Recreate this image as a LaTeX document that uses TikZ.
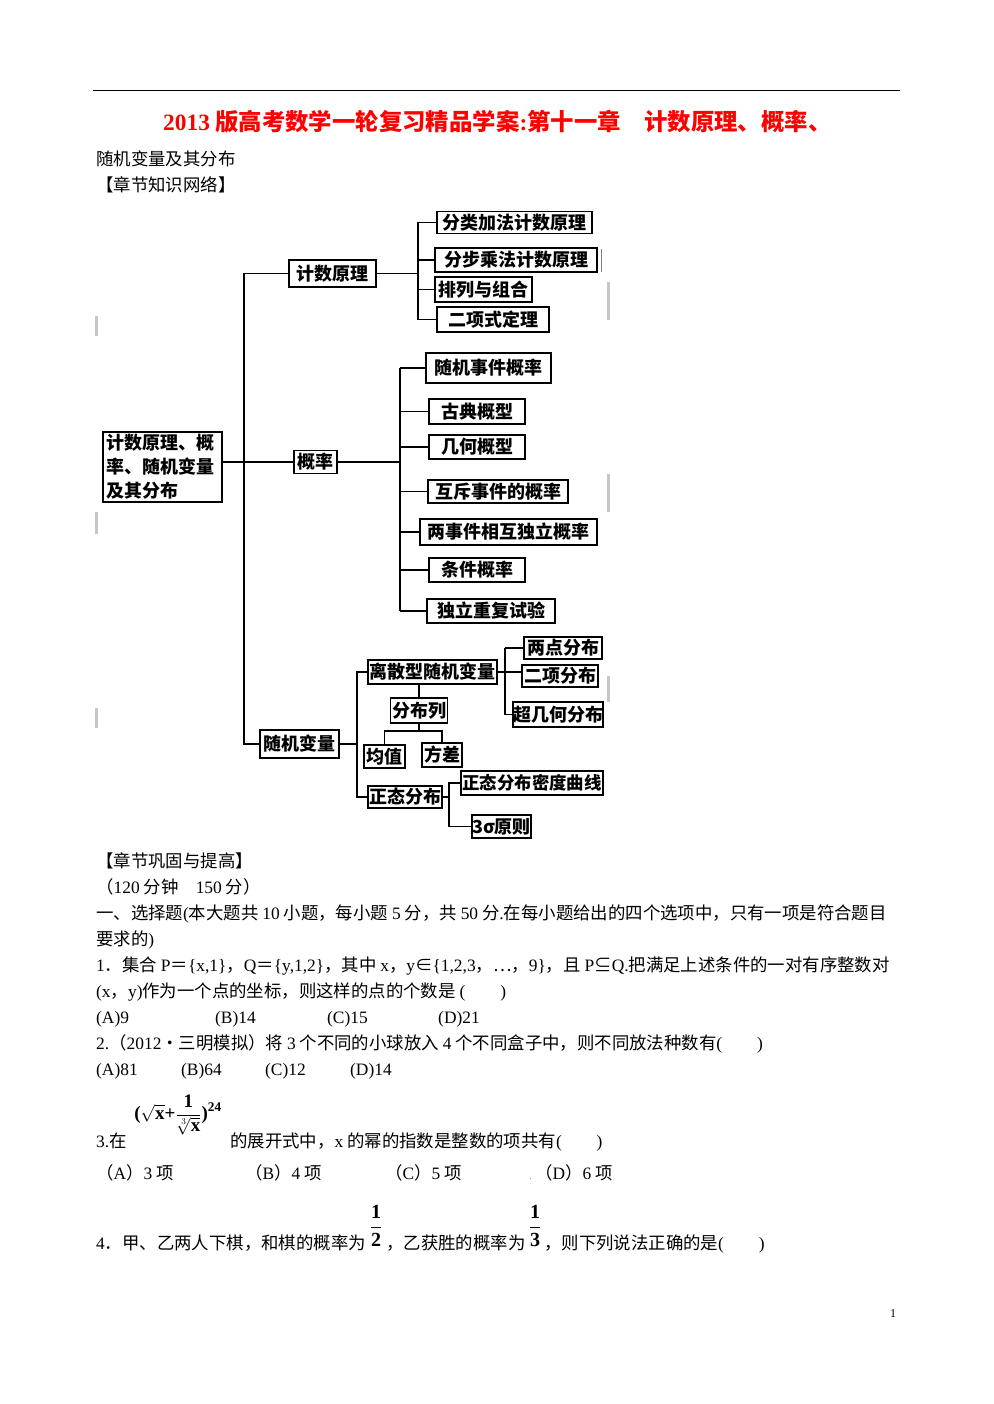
\documentclass[tikz,border=0pt]{standalone}
\usepackage{fontspec}
\setmainfont{Liberation Serif}
\newfontfamily\cjk{Noto Sans CJK SC}
\usetikzlibrary{positioning}
\newcommand\en[1]{{\rmfamily #1}}
\newcommand\bt[1]{\mbox{\rmfamily\bfseries #1}}
\newcommand\powx{\ensuremath{\displaystyle\bt{(}\sqrt{\mathbf{x}}\bt{+}\frac{\mathbf{1}}{\sqrt[3]{\mathbf{x}}}\bt{)}^{\mathbf{24}}}}
\newcommand\half[1]{\ensuremath{\displaystyle\frac{\mathbf{1}}{\mathbf{#1}}}}
\tikzset{
  kbox/.style={
    draw,
    line width=1.5pt,
    inner sep=0pt,
    minimum width=#1,
    minimum height=24,
    font=\cjk\bfseries\fontsize{18}{24}\selectfont
  },
  link/.style={
    line width=1.5pt
  },
  txt/.style={
    anchor=base west,
    inner sep=0pt,
    font=\cjk\fontsize{17.4}{20}\selectfont
  },
  latin/.style={
    txt,
    font=\rmfamily\fontsize{17.4}{20}\selectfont
  },
  mathbox/.style={
    inner sep=0pt,
    font=\rmfamily\bfseries\fontsize{17}{20}\selectfont
  },
  smudge/.style={
    fill=black!22,
    draw=none
  }
}

\begin{document}
\begin{tikzpicture}[x=1pt, y=-1pt]
    \fill[white] (0,0) rectangle (993,1404);
    \useasboundingbox (0,0) rectangle (993,1404);

    % 页眉线与标题
    \draw[line width=0.8pt] (93,90) -- (900,90);
    \node[txt, text=red, font=\cjk\bfseries\fontsize{23.4}{24}\selectfont] (title) at (163,130.5) {\en{2013} 版高考数学一轮复习精品学案\en{:}第十一章　计数原理、概率、};
    \node[txt] (sub) at (96,166) {随机变量及其分布};
    \node[txt] (wl) at (96,192) {【章节知识网络】};

    % 知识网络
    \node[kbox=119, minimum height=70, align=left, text width=113] (root) at (162.5,467) {计数原理、概\\率、随机变量\\及其分布};
    \node[kbox=87, minimum height=27] (jsyl) at (332.5,273.5) {计数原理};
    \node[kbox=43, minimum height=23] (gl) at (315.5,462) {概率};
    \node[kbox=79, minimum height=28] (sjbl) at (299.5,744) {随机变量};

    % 计数原理
    \node[kbox=155, minimum height=22] (fl) at (514.5,222.5) {分类加法计数原理};
    \node[kbox=162] (fb) at (516,260) {分步乘法计数原理};
    \node[kbox=97, minimum height=25] (pl) at (483.5,289.5) {排列与组合};
    \node[kbox=112, minimum height=25] (dx) at (493,319.5) {二项式定理};

    % 概率
    \node[kbox=125, minimum height=30] (sj) at (488.5,368) {随机事件概率};
    \node[kbox=96, minimum height=25] (gd) at (477,411.5) {古典概型};
    \node[kbox=96] (jh) at (477,447) {几何概型};
    \node[kbox=140, minimum height=23] (hc) at (498,491.5) {互斥事件的概率};
    \node[kbox=177, minimum height=26] (xh) at (508.5,532) {两事件相互独立概率};
    \node[kbox=96] (tj) at (477,570) {条件概率};
    \node[kbox=128] (dl) at (491,611) {独立重复试验};

    % 随机变量
    \node[kbox=129] (ls) at (432.5,672) {离散型随机变量};
    \node[kbox=78, minimum height=22] (ldfb) at (563,648) {两点分布};
    \node[kbox=76, minimum height=22] (exfb) at (560,676) {二项分布};
    \node[kbox=88, minimum height=25] (cj) at (558,714.5) {超几何分布};
    \node[kbox=57, minimum height=25] (fbl) at (419,710.5) {分布列};
    \node[kbox=41, minimum height=23] (jz) at (384.5,756.5) {均值};
    \node[kbox=40] (fc) at (442,755) {方差};
    \node[kbox=74, minimum height=22] (zt) at (405,797) {正态分布};
    \node[kbox=142, font=\cjk\bfseries\fontsize{17.4}{24}\selectfont] (md) at (532,783) {正态分布密度曲线};
    \node[kbox=59, minimum height=23] (sr) at (501.5,826.5) {3σ原则};

    % 连线
    \coordinate (s0) at (244,0);
    \coordinate (s1) at (418,0);
    \coordinate (s2) at (400,0);
    \coordinate (s3) at (357,0);
    \coordinate (s4) at (505,0);
    \coordinate (s5) at (449,0);
    \draw[link] (jsyl.west) -| (s0 |- sjbl.west) -- (sjbl.west);
    \draw[link] (root.east |- gl.west) -- (gl.west);

    \draw[link] (jsyl.east) -- (jsyl.east -| s1);
    \draw[link] (fl.west -| s1) -- (dx.west -| s1);
    \foreach \n in {fl,fb,pl,dx}
      \draw[link] (\n.west -| s1) -- (\n.west);

    \draw[link] (gl.east) -- (gl.east -| s2);
    \draw[link] (sj.west -| s2) -- (dl.west -| s2);
    \foreach \n in {sj,gd,jh,hc,xh,tj,dl}
      \draw[link] (\n.west -| s2) -- (\n.west);

    \draw[link] (sjbl.east) -- (sjbl.east -| s3);
    \draw[link] (ls.west) -| (s3 |- zt.west) -- (zt.west);

    \draw[link] (ls.east) -- (ls.east -| exfb.west);
    \draw[link] (ldfb.west -| s4) -- (cj.west -| s4);
    \foreach \n in {ldfb,cj}
      \draw[link] (\n.west -| s4) -- (\n.west);

    \draw[link] (ls.south -| fbl.north) -- (fbl.north);
    \draw[link] (fbl.south) -- ++(0,7) coordinate (fj);
    \draw[link] (jz.north) |- (fj) -| (fc.north);

    \draw[link] (zt.east) -- (zt.east -| s5);
    \draw[link] (md.west) -| (s5 |- sr.west) -- (sr.west);

    % 扫描污迹
    \fill[smudge] (95,316) rectangle (98,336);
    \fill[smudge] (95,512) rectangle (98,534);
    \fill[smudge] (95,708) rectangle (98,728);
    \fill[smudge] (607,282) rectangle (610,320);
    \fill[smudge] (607,474) rectangle (610,512);
    \fill[smudge] (607,676) rectangle (610,702);
    \draw[black!50, line width=0.8pt] (601,249) -- (601,272);

    % 巩固与提高
    \node[txt] (gg) at (96,867) {【章节巩固与提高】};
    \node[txt] (time) at (96,893) {（\en{120} 分钟　\en{150} 分）};
    \node[txt] (xz1) at (96,919) {一、选择题\en{(}本大题共 \en{10} 小题，每小题 \en{5} 分，共 \en{50} 分\en{.}在每小题给出的四个选项中，只有一项是符合题目};
    \node[txt] (xz2) at (96,945) {要求的\en{)}};

    % 第1题
    \node[txt] (q1a) at (96,971) {\en{1}．集合 \en{P}＝\en{\{x,1\}}，\en{Q}＝\en{\{y,1,2\}}，其中 \en{x}，\en{y}∈\en{\{1,2,3}，…，\en{9\}}，且 \en{P}⊆\en{Q.}把满足上述条件的一对有序整数对};
    \node[txt] (q1b) at (96,997) {\en{(x}，\en{y)}作为一个点的坐标，则这样的点的个数是 \en{(}　　\en{)}};
    \node[latin] (q1c1) at (96,1023) {(A)9};
    \node[latin] (q1c2) at (215,1023) {(B)14};
    \node[latin] (q1c3) at (327,1023) {(C)15};
    \node[latin] (q1c4) at (438,1023) {(D)21};

    % 第2题
    \node[txt] (q2) at (96,1049) {\en{2.}（\en{2012}・三明模拟）将 \en{3} 个不同的小球放入 \en{4} 个不同盒子中，则不同放法种数有\en{(}　　\en{)}};
    \node[latin] (q2c1) at (96,1075) {(A)81};
    \node[latin] (q2c2) at (181,1075) {(B)64};
    \node[latin] (q2c3) at (265,1075) {(C)12};
    \node[latin] (q2c4) at (350,1075) {(D)14};

    % 第3题
    \node[txt] (q3a) at (96,1147) {\en{3.}在};
    \node[mathbox, font=\rmfamily\bfseries\fontsize{19}{22}\selectfont] (fm) at (178,1115) {\powx};
    \node[txt] (q3b) at (230,1147) {的展开式中，\en{x} 的幂的指数是整数的项共有\en{(}　　\en{)}};
    \node[txt] (q3c1) at (96,1179) {（\en{A}）\en{3} 项};
    \node[txt] (q3c2) at (245,1179) {（\en{B}）\en{4} 项};
    \node[txt] (q3c3) at (385,1179) {（\en{C}）\en{5} 项};
    \node[txt] (q3c4) at (535,1179) {（\en{D}）\en{6} 项};
    \node[txt, text=orange, font=\rmfamily\fontsize{12}{12}\selectfont] (dot) at (529,1179) {.};

    % 第4题
    \node[txt] (q4a) at (96,1249) {\en{4}．甲、乙两人下棋，和棋的概率为};
    \node[mathbox, font=\rmfamily\bfseries\fontsize{20}{22}\selectfont] (f12) at (376,1226) {\half{2}};
    \node[txt] (q4b) at (386,1249) {，乙获胜的概率为};
    \node[mathbox, font=\rmfamily\bfseries\fontsize{20}{22}\selectfont] (f13) at (535,1226) {\half{3}};
    \node[txt] (q4c) at (544,1249) {，则下列说法正确的是\en{(}　　\en{)}};

    % 页码
    \node[latin, font=\rmfamily\fontsize{12}{12}\selectfont] (pg) at (890,1317) {1};
\end{tikzpicture}
\end{document}
